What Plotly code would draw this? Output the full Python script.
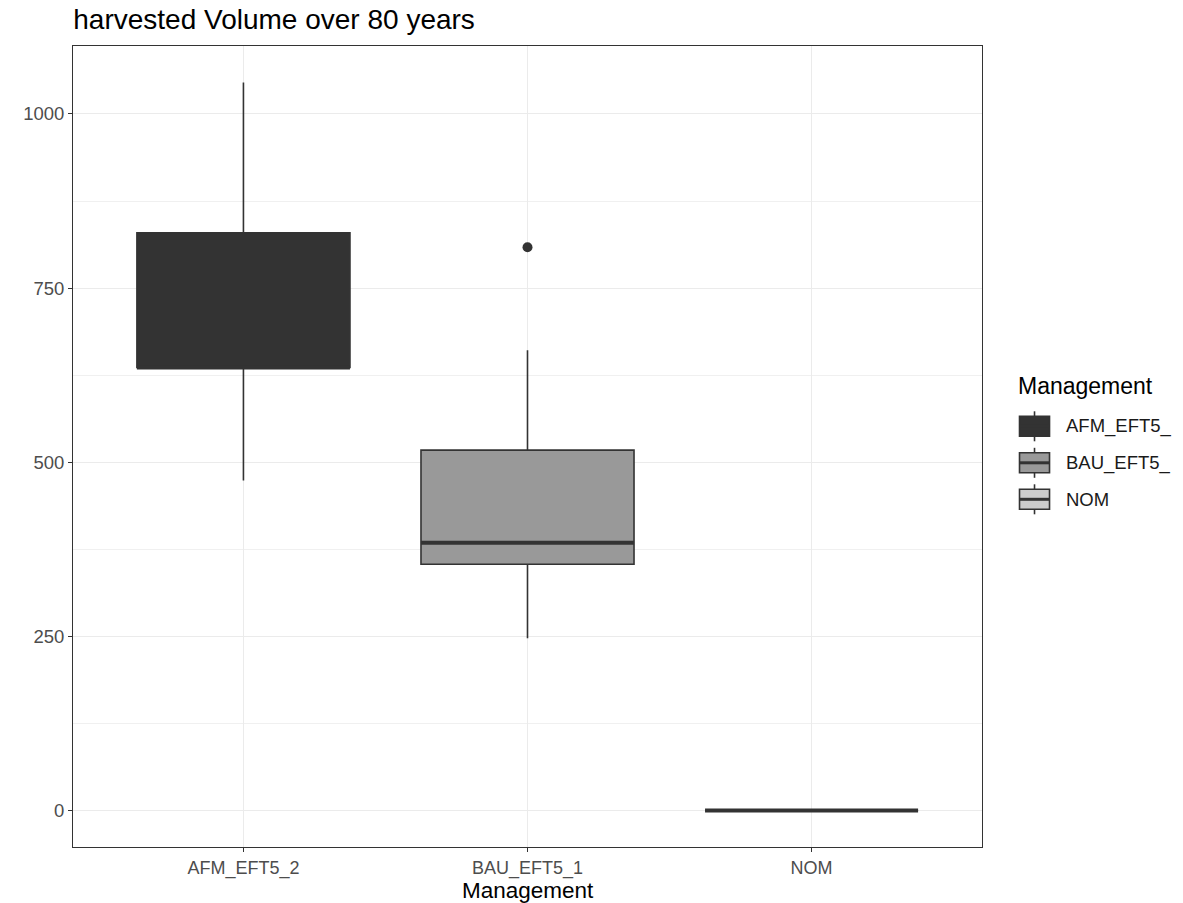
import plotly.graph_objects as go

# Harvested volume summary per management scenario
categories = ["AFM_EFT5_2", "BAU_EFT5_1", "NOM"]
legend_labels = ["AFM_EFT5_", "BAU_EFT5_", "NOM"]
fills = ["#333333", "#999999", "#CCCCCC"]
lower_whisker = [474, 247.5, 0]
q1 = [636, 353.6, 0]
median = [636, 384.6, 0]
q3 = [829.4, 517.4, 0]
upper_whisker = [1045.3, 660.7, 0]
outlier_cat = ["BAU_EFT5_1"]
outlier_val = [808.8]

W, H = 1183, 903
L, R, T, B = 73.3, 982.0, 45.7, 846.7
FONT = "Liberation Sans, Arial, sans-serif"
EDGE = "#333333"
BOX_W = 0.75

fig = go.Figure()
xpos = list(range(1, len(categories) + 1))

for i, cat in enumerate(categories):
    x = xpos[i]
    fig.add_trace(go.Box(
        x=[x], q1=[q1[i]], median=[median[i]], q3=[q3[i]],
        lowerfence=[lower_whisker[i]], upperfence=[upper_whisker[i]],
        width=BOX_W, whiskerwidth=0, fillcolor=fills[i],
        line=dict(color=EDGE, width=1.6), boxpoints=False,
        showlegend=False, hoverinfo="skip",
    ))
    # thicker median bar
    fig.add_trace(go.Scatter(
        x=[x - BOX_W / 2, x + BOX_W / 2], y=[median[i], median[i]],
        mode="lines", line=dict(color=EDGE, width=4),
        showlegend=False, hoverinfo="skip",
    ))

fig.add_trace(go.Scatter(
    x=[xpos[categories.index(c)] for c in outlier_cat], y=outlier_val,
    mode="markers", marker=dict(color=EDGE, size=10),
    showlegend=False, hoverinfo="skip",
))


def px_x(p):
    return (p - L) / (R - L)


def px_y(p):
    return (B - p) / (B - T)


# Legend drawn as boxplot glyphs
shapes = []
annotations = []
annotations.append(dict(
    text="Management", x=px_x(1016), y=px_y(386), xref="paper", yref="paper",
    xanchor="left", yanchor="middle", showarrow=False,
    font=dict(family=FONT, size=23, color="#000000"),
))
key_cx = 1034.5
for i, lab in enumerate(legend_labels):
    cy = 426 + i * 36.5
    shapes.append(dict(type="line", xref="paper", yref="paper",
                       x0=px_x(key_cx), x1=px_x(key_cx),
                       y0=px_y(cy - 15), y1=px_y(cy + 15),
                       line=dict(color=EDGE, width=1.6)))
    shapes.append(dict(type="rect", xref="paper", yref="paper",
                       x0=px_x(1019.5), x1=px_x(1049.5),
                       y0=px_y(cy - 10), y1=px_y(cy + 10),
                       fillcolor=fills[i], line=dict(color=EDGE, width=1.6)))
    shapes.append(dict(type="line", xref="paper", yref="paper",
                       x0=px_x(1019.5), x1=px_x(1049.5),
                       y0=px_y(cy), y1=px_y(cy),
                       line=dict(color=EDGE, width=3)))
    annotations.append(dict(
        text=lab, x=px_x(1064), y=px_y(cy), xref="paper", yref="paper",
        xanchor="left", yanchor="middle", showarrow=False,
        font=dict(family=FONT, size=18.5, color="#1A1A1A"),
    ))

annotations.append(dict(
    text="Management", x=0.5, y=px_y(890), xref="paper", yref="paper",
    xanchor="center", yanchor="middle", showarrow=False,
    font=dict(family=FONT, size=22.5, color="#000000"),
))

fig.update_layout(
    width=W, height=H,
    margin=dict(l=L, r=W - R, t=T, b=H - B),
    paper_bgcolor="white", plot_bgcolor="white",
    title=dict(text="harvested Volume over 80 years", x=L / W, xanchor="left",
               y=1 - 19 / H, yanchor="middle",
               font=dict(family=FONT, size=28, color="#000000")),
    shapes=shapes, annotations=annotations,
    boxmode="overlay",
    xaxis=dict(range=[0.4, 3.6], tickmode="array", tickvals=xpos, ticktext=categories,
               showgrid=True, gridcolor="#EBEBEB", gridwidth=1.4,
               zeroline=False, showline=True, linecolor=EDGE, linewidth=1, mirror=True,
               ticks="outside", ticklen=4, tickcolor=EDGE, tickwidth=1.3,
               tickfont=dict(family=FONT, size=18, color="#4D4D4D")),
    yaxis=dict(range=[-52.3, 1097.6], tickmode="array", tickvals=[0, 250, 500, 750, 1000],
               showgrid=True, gridcolor="#EBEBEB", gridwidth=1.4,
               minor=dict(tickvals=[125, 375, 625, 875], showgrid=True,
                          gridcolor="#F0F0F0", gridwidth=0.8, ticks=""),
               zeroline=False, showline=True, linecolor=EDGE, linewidth=1, mirror=True,
               ticks="outside", ticklen=4, tickcolor=EDGE, tickwidth=1.3,
               tickfont=dict(family=FONT, size=18.5, color="#4D4D4D")),
)

fig.write_html("out.html")
